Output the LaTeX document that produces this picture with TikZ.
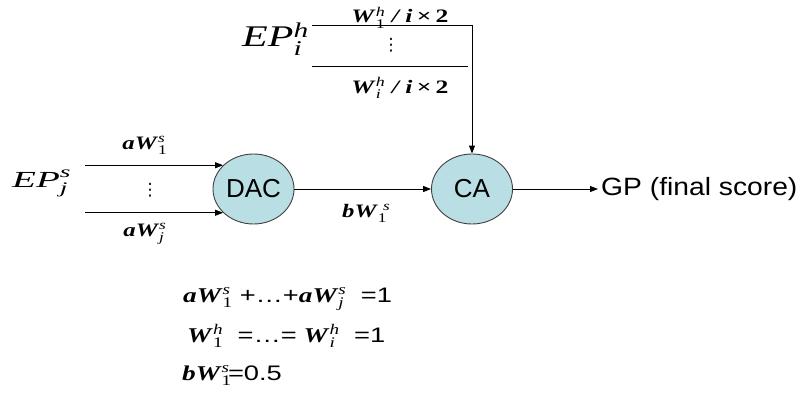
\documentclass[tikz,border=0pt]{standalone}
\usepackage{amsmath}
\usepackage{graphicx}
\usepackage{fontspec}
\setmainfont{Liberation Serif}
\newfontfamily\arial{Liberation Sans}
\newfontfamily\dejavu{DejaVu Sans}
\usetikzlibrary{arrows.meta,shapes.geometric}
\definecolor{nodefill}{RGB}{185,222,228}
\newcommand{\bwv}[3]{\textbf{\textit{#1}}$^{\text{\normalfont\itshape #2}}_{\text{\normalfont #3}}$}
\newcommand{\wide}[2]{\scalebox{#1}[1]{#2}}
\begin{document}
\begin{tikzpicture}[x=1pt,y=-1pt,
  every node/.style={inner sep=0pt},
  proc/.style={ellipse, draw=black!75, line width=0.9pt, fill=nodefill, minimum width=81pt, minimum height=70pt, font=\fontsize{26}{30}\selectfont\arial},
  arr/.style={line width=0.9pt, -{Triangle[length=8pt,width=6pt]}},
  bar/.style={line width=0.9pt},
  lab/.style={font=\fontsize{19}{23}\selectfont},
  eqf/.style={font=\fontsize{21}{25}\selectfont},
  dotsf/.style={font=\fontsize{17}{20}\selectfont\dejavu}]
\useasboundingbox (0,0) rectangle (808,396);
\node[proc] (DAC) at (253.5,189) {DAC};
\node[proc] (CA) at (472,189) {CA};
\node[anchor=west, inner sep=3pt, font=\fontsize{25}{30}\selectfont\arial] (GP) at (598,189) {\wide{1.13}{GP (final score)}};
\coordinate (a1) at (85,0 |- DAC.142);
\coordinate (a2) at (85,0 |- DAC.218);
\draw[arr] (a1) -- (DAC.142);
\draw[arr] (a2) -- (DAC.218);
\draw[arr] (DAC) -- (CA);
\draw[arr] (CA) -- (GP);
\coordinate (h1) at (312,25);
\coordinate (tc) at (CA.north |- 0,25);
\draw[arr] (h1) -- (tc) -- (CA.north);
\coordinate (h2a) at (312,66);
\coordinate (h2b) at (468,66);
\draw[bar] (h2a) -- (h2b);
% left labels
\node[lab, anchor=base] (l1) at (145,149) {\wide{1.3}{\bwv{aW}{s}{1}}};
\node[dotsf] (d1) at (150,190) {⋮};
\node[lab, anchor=base] (l2) at (145,236) {\wide{1.3}{\bwv{aW}{s}{\itshape j}}};
\node[font=\fontsize{23}{28}\selectfont, anchor=base west] (EPs) at (12,187) {\wide{1.7}{\textit{EP}$^{\text{\itshape s}}_{\text{\itshape j}}$}};
% top labels
\node[font=\fontsize{30}{36}\selectfont, anchor=base west] (EPh) at (242,47) {\wide{1.4}{\textit{EP}$^{\text{\itshape h}}_{\text{\itshape i}}$}};
\node[lab, anchor=base] (t1) at (400,23) {\wide{1.35}{\bwv{W}{h}{1}\ \textbf{\textit{/ i}\,×\,2}}};
\node[dotsf] (d2) at (391,45) {⋮};
\node[lab, anchor=base] (t2) at (400,93) {\wide{1.35}{\bwv{W}{h}{\itshape i}\ \textbf{\textit{/ i}\,×\,2}}};
% middle label
\node[lab, anchor=base west] (bl) at (342,217) {\wide{1.3}{\textbf{\textit{bW}}$_{\text{1}}^{\hspace{4pt}\text{\itshape s}}$}};
% equations
\node[eqf, anchor=base west] (e1) at (183,302) {\wide{1.3}{\bwv{aW}{s}{1} {\arial +\ldots+}\bwv{aW}{s}{\itshape j} {\arial\ =1}}};
\node[eqf, anchor=base west] (e2) at (187,342) {\wide{1.3}{\bwv{W}{h}{1} {\arial\ =\ldots=} \bwv{W}{h}{\itshape i} {\arial\ =1}}};
\node[eqf, anchor=base west] (e3) at (182,380) {\wide{1.3}{\textbf{\textit{bW}}$^{\text{\itshape s}}_{\text{1}}${\arial\kern-3pt=0.5}}};
\end{tikzpicture}
\end{document}
